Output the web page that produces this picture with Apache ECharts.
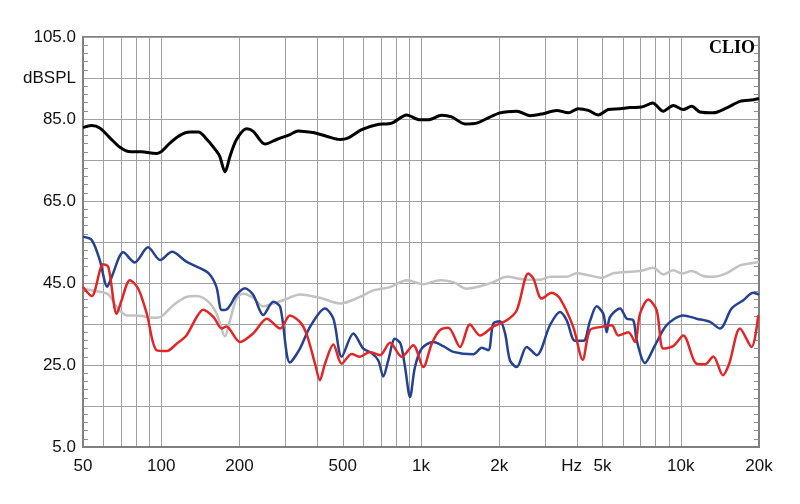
<!DOCTYPE html>
<html>
<head>
<meta charset="utf-8">
<script src="https://cdn.jsdelivr.net/npm/echarts@6/dist/echarts.min.js"></script>
<style>html,body{margin:0;padding:0;background:#fff}#c{width:800px;height:504px}</style>
</head>
<body>
<div id="c"></div>
<script>
// x tick labels (Hz) and grid frequencies
const xLabelValues = [50, 100, 200, 500, 1000, 2000, 3800, 5000, 10000, 20000];
const xLabelTexts = ['50', '100', '200', '500', '1k', '2k', 'Hz', '5k', '10k', '20k'];
const xGridValues = [50,60,70,80,90,100,200,300,400,500,600,700,800,900,1000,2000,3000,4000,5000,6000,7000,8000,9000,10000,20000];
// y tick labels
const yLabelValues = [5, 25, 45, 65, 85, 95, 105];
const yLabelTexts = ['5.0', '25.0', '45.0', '65.0', '85.0', 'dBSPL', '105.0'];

// series: [frequency Hz, dB SPL]
const blackCurve = [[50,82.9],[54,83.4],[58,82.8],[63.5,80.4],[69.4,78.1],[74.7,77.1],[84.1,77.0],[96,76.6],[100.4,77.1],[108,79.1],[118,81.0],[129,81.8],[139,81.8],[150,80.0],[163.5,77.1],[168,75.9],[176,72.1],[184,75.9],[195,80.0],[213,82.6],[226,82.0],[251,78.9],[278,80.0],[313,81.2],[337,82.1],[374,81.8],[385,81.7],[433,80.8],[488,80.0],[525,80.4],[591,82.4],[675,83.6],[772,84.0],[881,86.0],[991,84.8],[1067,84.8],[1201,85.9],[1313,85.5],[1477,83.8],[1638,84.0],[1790,85.1],[2014,86.5],[2335,86.9],[2627,85.8],[2955,86.3],[3329,87.1],[3690,86.5],[4031,87.5],[4406,87.1],[4812,86.0],[5258,87.3],[5835,87.5],[6375,87.8],[7070,87.9],[7795,88.9],[8564,86.9],[9356,88.3],[10225,87.3],[11010,88.1],[11855,86.7],[13340,86.5],[15020,87.7],[16900,89.3],[19010,89.7],[20000,90.0]];
const grayCurve = [[50,43.6],[56.4,43.0],[62.6,42.2],[67.4,39.1],[73.6,37.1],[82.9,37.0],[93.2,36.5],[100.4,36.9],[111.3,39.6],[125,41.6],[137,41.8],[152,40.4],[163.5,37.5],[176,32.0],[184,35.9],[195,41.2],[207,42.4],[226,41.4],[247,39.3],[270,40.0],[295,40.8],[342,42.2],[408,41.4],[488,40.0],[582,41.6],[655,43.2],[760,44.0],[881,45.7],[1020,44.7],[1183,45.7],[1332,45.2],[1499,43.6],[1687,44.2],[1898,45.2],[2137,46.5],[2552,45.8],[2870,45.8],[3136,46.5],[3638,46.5],[3975,47.4],[4406,46.9],[4960,46.3],[5497,47.4],[6190,47.7],[6966,47.9],[7836,48.7],[8564,47.1],[9356,48.1],[10080,47.3],[11010,47.9],[12210,46.7],[13340,46.5],[15020,47.4],[16900,49.3],[19010,49.9],[20000,50.1]];
const blueCurve = [[50,56.3],[54,55.5],[58,50.6],[62,44.1],[64.5,46.5],[71.5,52.5],[79,50.0],[89,53.7],[99,50.6],[110,52.6],[125,50.2],[137,49.0],[152,47.4],[163,44.1],[171,38.4],[178,38.5],[195,42.1],[210,43.7],[226,42.1],[247,37.2],[270,40.4],[287,39.2],[313,25.6],[342,29.0],[374,34.3],[427,38.8],[460,36.3],[495,27.0],[549,32.7],[600,29.0],[646,27.9],[685,26.1],[716,22.2],[748,26.1],[794,31.4],[834,30.2],[868,24.5],[907,17.2],[948,24.5],[1006,29.0],[1115,30.6],[1218,29.6],[1332,28.2],[1590,27.6],[1713,29.2],[1816,28.6],[1898,35.1],[2014,35.7],[2107,32.7],[2201,26.1],[2335,24.5],[2552,29.4],[2788,27.4],[3136,34.7],[3428,37.9],[3638,35.9],[3915,30.9],[4225,30.9],[4471,35.7],[4745,39.3],[5030,37.5],[5186,33.0],[5337,36.7],[5835,38.8],[6190,36.3],[6563,35.9],[6764,31.0],[7282,25.5],[7956,29.8],[8824,34.7],[10225,37.1],[11500,36.3],[12950,35.5],[14150,33.9],[15700,38.8],[17400,40.8],[19010,42.6],[20000,42.2]];
const redCurve = [[50,44.0],[54,41.8],[59.8,49.6],[62.6,48.9],[67.4,37.5],[70.4,40.8],[75.8,45.7],[81.6,43.6],[88,37.5],[96,28.6],[105,28.4],[114.7,30.2],[125,32.2],[137,36.7],[145,38.5],[159,36.7],[171,33.9],[178,34.4],[201,30.6],[226,32.7],[255,36.3],[287,33.9],[313,37.1],[342,35.5],[362,32.7],[391,25.3],[408,21.3],[427,25.3],[460,30.0],[495,25.3],[541,27.7],[582,27.0],[636,28.2],[695,27.4],[760,30.4],[843,27.0],[934,29.8],[1020,24.5],[1100,30.2],[1183,33.5],[1274,34.1],[1413,29.4],[1543,34.9],[1687,32.2],[1898,34.4],[2137,35.9],[2335,38.3],[2589,47.3],[2707,46.1],[2914,41.2],[3184,42.6],[3428,41.2],[3854,34.3],[4192,26.3],[4471,33.5],[4960,34.3],[5420,34.7],[5748,32.2],[6280,33.0],[6664,30.6],[6966,37.5],[7496,41.0],[8077,38.3],[8564,29.0],[9356,29.6],[10225,32.2],[11500,25.3],[12390,25.2],[13340,27.1],[14520,22.5],[15350,25.3],[16900,33.9],[18720,29.4],[19860,37.1]];

const chart = echarts.init(document.getElementById('c'), null, {renderer: 'canvas'});
const font = 'Liberation Sans, Arial, sans-serif';
const gridColor = '#a0a0a0';
function yAxisDef(pos, showLabels) {
  return {
    type: 'value', position: pos, min: 5, max: 105, interval: 10,
    axisLine: {show: true, lineStyle: {color: '#808080', width: 2}},
    axisTick: {show: false, inside: true, length: 0},
    minorTick: {show: true, splitNumber: 5, length: 5, lineStyle: {color: '#909090', width: 1}},
    splitLine: {show: showLabels, lineStyle: {color: gridColor, width: 1}},
    axisLabel: {
      show: showLabels, margin: 7, color: '#111', fontSize: 17, fontFamily: font,
      formatter: function (v) {
        const i = yLabelValues.indexOf(v);
        return i >= 0 ? yLabelTexts[i] : '';
      }
    }
  };
}
function line(data, color, width, z) {
  return {type: 'line', data: data, showSymbol: false, smooth: 0.3, z: z,
    lineStyle: {color: color, width: width}, itemStyle: {color: color}, silent: true, animation: false};
}
chart.setOption({
  animation: false,
  grid: {left: 83, right: 41, top: 37, bottom: 57, show: true, borderColor: '#808080', borderWidth: 2, backgroundColor: 'transparent'},
  xAxis: {
    type: 'log', logBase: 10, min: 50, max: 20000,
    axisLine: {show: true, lineStyle: {color: '#808080', width: 2}},
    axisTick: {show: false, customValues: xGridValues},
    minorTick: {show: false},
    minorSplitLine: {show: false},
    splitLine: {show: true, lineStyle: {color: gridColor, width: 1}},
    axisLabel: {
      show: true, margin: 11, color: '#111', fontSize: 17, fontFamily: font,
      customValues: xLabelValues,
      formatter: function (v) {
        for (let i = 0; i < xLabelValues.length; i++) {
          if (Math.abs(xLabelValues[i] - v) / xLabelValues[i] < 1e-6) return xLabelTexts[i];
        }
        return '';
      }
    }
  },
  yAxis: [yAxisDef('left', true), yAxisDef('right', false)],
  graphic: [{type: 'text', right: 45, top: 39, style: {text: 'CLIO', font: 'bold 18px "Liberation Serif", serif', fill: '#000'}}],
  series: [
    line(grayCurve, '#c2c2c2', 2.5, 2),
    line(blueCurve, '#25418f', 2.5, 3),
    line(redCurve, '#e02626', 2.5, 4),
    line(blackCurve, '#000000', 3, 5)
  ]
});
</script>
</body>
</html>
